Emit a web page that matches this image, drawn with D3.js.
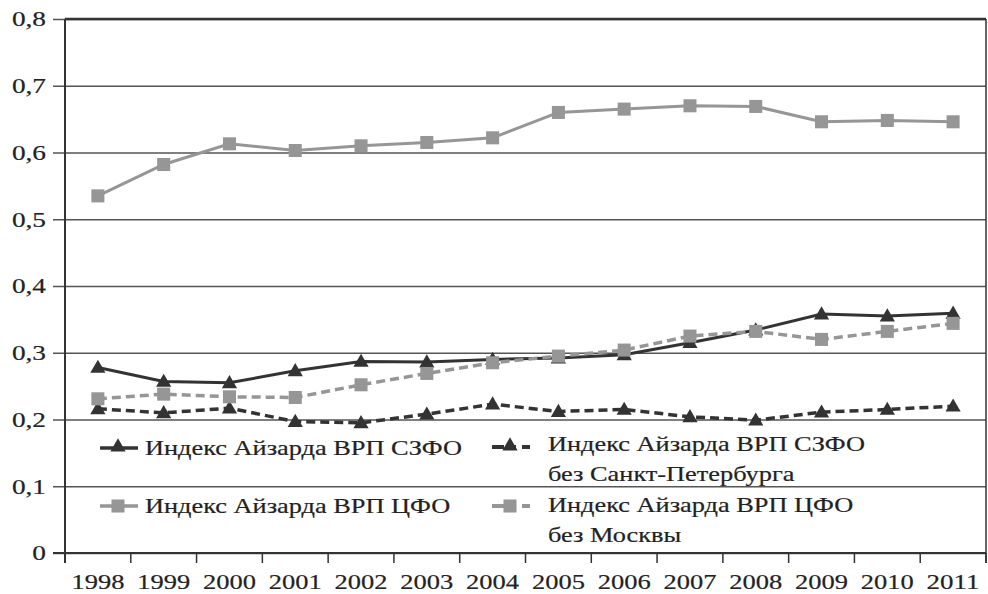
<!DOCTYPE html>
<html>
<head>
<meta charset="utf-8">
<script src="https://cdn.jsdelivr.net/npm/d3@7"></script>
<style>
  body { margin: 0; background: #fff; }
  svg { display: block; }
  svg text { font-family: "Liberation Serif", "DejaVu Serif", serif; }
</style>
</head>
<body>
<svg width="988" height="594"></svg>
<script>
const years = ['1998','1999','2000','2001','2002','2003','2004','2005','2006','2007','2008','2009','2010','2011'];
const yTicks = [0, 0.1, 0.2, 0.3, 0.4, 0.5, 0.6, 0.7, 0.8];

// Индекс Айзарда ВРП СЗФО
const szfo = [0.278, 0.257, 0.255, 0.273, 0.287, 0.286, 0.290, 0.292, 0.297, 0.315, 0.334, 0.358, 0.355, 0.359];
// Индекс Айзарда ВРП СЗФО без Санкт-Петербурга
const szfoNoSpb = [0.216, 0.210, 0.217, 0.197, 0.195, 0.208, 0.223, 0.212, 0.215, 0.204, 0.199, 0.211, 0.215, 0.220];
// Индекс Айзарда ВРП ЦФО
const cfo = [0.535, 0.582, 0.613, 0.603, 0.610, 0.615, 0.622, 0.660, 0.665, 0.670, 0.669, 0.646, 0.648, 0.646];
// Индекс Айзарда ВРП ЦФО без Москвы
const cfoNoMsk = [0.231, 0.238, 0.234, 0.233, 0.252, 0.269, 0.285, 0.295, 0.304, 0.325, 0.332, 0.320, 0.332, 0.344];

const dark = '#333333';
const grey = '#969696';
const ink = '#222222';
const fontFamily = '"Liberation Serif", "DejaVu Serif", serif';

const series = [
  { name: 'Индекс Айзарда ВРП СЗФО', values: szfo, color: dark, dash: null, marker: 'triangle' },
  { name: 'Индекс Айзарда ВРП ЦФО', values: cfo, color: grey, dash: null, marker: 'square' },
  { name: 'Индекс Айзарда ВРП СЗФО без Санкт-Петербурга', values: szfoNoSpb, color: dark, dash: '9,5', marker: 'triangle' },
  { name: 'Индекс Айзарда ВРП ЦФО без Москвы', values: cfoNoMsk, color: grey, dash: '9,5', marker: 'square' }
];

const svg = d3.select('svg');
const plotLeft = 65, plotRight = 986, plotTop = 19, plotBottom = 553;

const x = d3.scaleBand().domain(years).range([plotLeft, plotRight]).padding(0);
const y = d3.scaleLinear().domain([0, 0.8]).range([plotBottom, plotTop]);
const cx = d => x(d) + x.bandwidth() / 2;

// the book uses a wide schoolbook face; stretch the serif glyphs to match
function stretch(sel, k) {
  sel.each(function() {
    const len = this.getComputedTextLength();
    d3.select(this).attr('textLength', len * k).attr('lengthAdjust', 'spacingAndGlyphs');
  });
}

// y axis with gridlines
const yAxis = svg.append('g')
  .attr('transform', `translate(${plotLeft},0)`)
  .call(d3.axisLeft(y).tickValues(yTicks)
    .tickSize(-(plotRight - plotLeft))
    .tickFormat(d => d === 0 ? '0' : d3.format('.1f')(d).replace('.', ',')))
  .attr('font-family', fontFamily)
  .attr('font-size', 21);
yAxis.select('.domain').remove();
yAxis.selectAll('.tick line')
  .attr('x1', -12)
  .attr('stroke', '#555')
  .attr('stroke-width', 1.4);
const yLabels = yAxis.selectAll('.tick text')
  .attr('x', -19)
  .attr('dy', '0.33em')
  .attr('fill', ink)
  .attr('stroke', ink)
  .attr('stroke-width', 0.2);
stretch(yLabels, 1.3);

// frame
svg.append('line').attr('x1', plotLeft).attr('x2', plotRight).attr('y1', plotTop).attr('y2', plotTop)
  .attr('stroke', '#333').attr('stroke-width', 2.5);
svg.append('line').attr('x1', plotLeft).attr('x2', plotLeft).attr('y1', plotTop).attr('y2', plotBottom + 10)
  .attr('stroke', '#333').attr('stroke-width', 2);
svg.append('line').attr('x1', plotRight).attr('x2', plotRight).attr('y1', plotTop).attr('y2', plotBottom + 10)
  .attr('stroke', '#333').attr('stroke-width', 1.5);
svg.append('line').attr('x1', plotLeft - 12).attr('x2', plotRight).attr('y1', plotBottom).attr('y2', plotBottom)
  .attr('stroke', '#333').attr('stroke-width', 2);

// x ticks at band boundaries
const edges = years.map(d => x(d)).concat([plotRight]);
svg.append('g').selectAll('line').data(edges).enter().append('line')
  .attr('x1', d => d).attr('x2', d => d)
  .attr('y1', plotBottom).attr('y2', plotBottom + 10)
  .attr('stroke', '#333').attr('stroke-width', 1.5);

svg.append('g').selectAll('text').data(years).enter().append('text')
  .attr('x', d => cx(d))
  .attr('y', 589)
  .attr('text-anchor', 'middle')
  .attr('font-family', fontFamily)
  .attr('font-size', 22)
  .attr('fill', ink)
  .attr('stroke', ink)
  .attr('stroke-width', 0.2)
  .text(d => d)
  .attr('textLength', 53)
  .attr('lengthAdjust', 'spacingAndGlyphs');

const triangle = d3.symbol().type(d3.symbolTriangle).size(100);
const square = d3.symbol().type(d3.symbolSquare).size(170);

function drawMarker(g, type, color) {
  return g.append('path')
    .attr('d', type === 'triangle' ? triangle() : square())
    .attr('fill', color);
}

const line = d3.line().x((d, i) => cx(years[i])).y(d => y(d));

// draw in order so the grey dashed line sits on top of the solid dark one
const drawOrder = [series[2], series[0], series[1], series[3]];
drawOrder.forEach(s => {
  const g = svg.append('g');
  g.append('path')
    .attr('d', line(s.values))
    .attr('fill', 'none')
    .attr('stroke', s.color)
    .attr('stroke-width', s.dash ? 3.5 : 3)
    .attr('stroke-dasharray', s.dash);
  s.values.forEach((v, i) => {
    const m = g.append('g').attr('transform', `translate(${cx(years[i])},${y(v) + (s.marker === 'triangle' ? 1 : 0)})`);
    drawMarker(m, s.marker, s.color);
  });
});

// legend
const legendItems = [
  { s: series[0], x: 100, y: 448, tx: 45, base: 7, lines: ['Индекс Айзарда ВРП СЗФО'] },
  { s: series[1], x: 100, y: 506, tx: 45, base: 7, lines: ['Индекс Айзарда ВРП ЦФО'] },
  { s: series[2], x: 492, y: 447, tx: 56, base: 4, lines: ['Индекс Айзарда ВРП СЗФО', 'без Санкт-Петербурга'] },
  { s: series[3], x: 492, y: 506, tx: 56, base: 6, lines: ['Индекс Айзарда ВРП ЦФО', 'без Москвы'] }
];
legendItems.forEach(it => {
  const g = svg.append('g').attr('class', 'legend').attr('transform', `translate(${it.x},${it.y})`);
  g.append('line')
    .attr('x1', 0).attr('x2', 38).attr('y1', 0).attr('y2', 0)
    .attr('stroke', it.s.color)
    .attr('stroke-width', it.s.dash ? 4 : 3.5)
    .attr('stroke-dasharray', it.s.dash ? '12,4,8,6' : null);
  const m = g.append('g').attr('transform', `translate(18,${it.s.marker === 'triangle' ? -1 : 0})`);
  drawMarker(m, it.s.marker, it.s.color);
  g.selectAll('text').data(it.lines).enter().append('text')
    .attr('x', it.tx)
    .attr('y', (d, i) => it.base + i * 30)
    .attr('font-family', fontFamily)
    .attr('font-size', 21)
    .attr('fill', ink)
    .attr('stroke', ink)
    .attr('stroke-width', 0.2)
    .text(d => d);
});

const legendText = svg.selectAll('.legend text');
const probeLen = legendText.node().getComputedTextLength();
stretch(legendText, 317 / probeLen);
</script>
</body>
</html>
